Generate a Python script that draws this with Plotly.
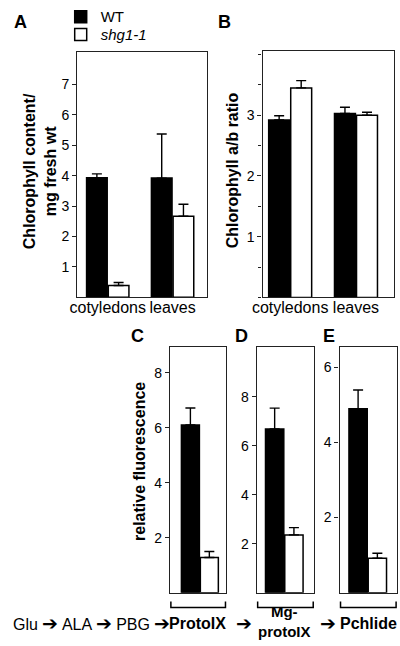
import plotly.graph_objects as go

W, H = 400, 646
FONT = "Liberation Sans, Arial, Helvetica, sans-serif"

# A: chlorophyll content per mg fresh weight
organs = ["cotyledons", "leaves"]
chl_wt = [3.93, 3.92]
chl_wt_err = [0.13, 1.45]
chl_shg = [0.39, 2.67]
chl_shg_err = [0.1, 0.39]

# B: chlorophyll a/b ratio
ratio_wt = [2.92, 3.03]
ratio_wt_err = [0.07, 0.1]
ratio_shg = [3.45, 3.0]
ratio_shg_err = [0.12, 0.05]

# C-E: relative fluorescence of porphyrin intermediates
pigments = ["ProtoIX", "Mg-protoIX", "Pchlide"]
fluor_wt = [6.1, 6.69, 4.9]
fluor_wt_err = [0.62, 0.85, 0.5]
fluor_shg = [1.28, 2.36, 0.92]
fluor_shg_err = [0.22, 0.3, 0.13]


def xdom(left, right):
    return [left / W, right / W]


def ydom(top, bottom):
    return [1 - bottom / H, 1 - top / H]


def err(values):
    return dict(type="data", array=values, arrayminus=[0] * len(values),
                symmetric=False, color="black", thickness=1.4, width=5)


def add_pair(fig, x, wt, wt_err, shg, shg_err, n, legend=False):
    xa, ya = f"x{n}" if n > 1 else "x", f"y{n}" if n > 1 else "y"
    fig.add_trace(go.Bar(
        x=x, y=wt, name="WT", offsetgroup="wt", legend="legend",
        showlegend=legend, xaxis=xa, yaxis=ya, error_y=err(wt_err),
        marker=dict(color="black", line=dict(color="black", width=1.5)),
    ))
    # second legend so the two keys sit as tightly as in the original
    fig.add_trace(go.Bar(
        x=x, y=shg, name="<i>shg1-1</i>", offsetgroup="shg", legend="legend2",
        showlegend=legend, xaxis=xa, yaxis=ya, error_y=err(shg_err),
        marker=dict(color="white", line=dict(color="black", width=1.5)),
    ))


fig = go.Figure()
add_pair(fig, organs, chl_wt, chl_wt_err, chl_shg, chl_shg_err, 1, legend=True)
add_pair(fig, organs, ratio_wt, ratio_wt_err, ratio_shg, ratio_shg_err, 2)
for i, name in enumerate(pigments):
    add_pair(fig, [name], [fluor_wt[i]], [fluor_wt_err[i]],
             [fluor_shg[i]], [fluor_shg_err[i]], 3 + i)

box = dict(showline=True, mirror=True, linecolor="#222", linewidth=1.2,
           showgrid=False, zeroline=False)
yax = dict(box, ticks="outside", ticklen=4, tickcolor="#222",
           tickfont=dict(size=14))

panels = {
    # n: (left, right, top, bottom, xrange, yrange, ytickvals)
    1: (69, 202, 45, 293, [-0.47, 1.53], [0, 8.05], [1, 2, 3, 4, 5, 6, 7]),
    2: (259, 394, 44, 293, [-0.42, 1.58], [0, 4.05], [1, 2, 3]),
    3: (164, 222, 343, 592, [-0.53, 0.47], [0, 8.95], [2, 4, 6, 8]),
    4: (253, 312, 343, 592, [-0.48, 0.52], [0, 10.05], [2, 4, 6, 8]),
    5: (338, 397, 343, 592, [-0.49, 0.51], [0, 6.55], [2, 4, 6]),
}
axes = {}
for n, (l, r, t, b, xr, yr, tv) in panels.items():
    sx = "" if n == 1 else str(n)
    axes[f"xaxis{sx}"] = dict(box, domain=xdom(l, r), range=xr, type="category",
                              anchor=f"y{sx}", ticks="", showticklabels=n < 3,
                              tickfont=dict(size=16), ticklabelstandoff=-5)
    axes[f"yaxis{sx}"] = dict(yax, domain=ydom(t, b), range=yr, tickvals=tv,
                              anchor=f"x{sx}")
axes["yaxis2"]["minor"] = dict(dtick=0.5, ticks="outside", ticklen=3,
                               tickcolor="#222")


def ann(text, x, y, size=15, angle=0, xanchor="center"):
    return dict(text=text, x=x / W, y=1 - y / H, xref="paper", yref="paper",
                showarrow=False, textangle=angle, xanchor=xanchor,
                yanchor="middle", font=dict(size=size, color="black"))


ARROW = "<span style='font-size:19px'>➔</span>"

annotations = [
    ann("<b>A</b>", 11, 14, 18),
    ann("<b>B</b>", 220, 14, 18),
    ann("<b>C</b>", 131, 332, 18),
    ann("<b>D</b>", 237, 332, 18),
    ann("<b>E</b>", 327, 332, 18),
    ann("<b>Chlorophyll content/<br>mg fresh wt</b>", 31, 165, 16, -90),
    ann("<b>Chlorophyll a/b ratio</b>", 229, 164, 16, -90),
    ann("<b>relative fluorescence</b>", 133, 459, 16, -90),
    ann(f"Glu {ARROW} ALA {ARROW} PBG {ARROW}", 166, 623, 16, xanchor="right"),
    ann("<b>ProtoIX</b>", 192, 623, 16),
    ann(ARROW, 240, 623, 15),
    ann("<b>Mg-<br>protoIX</b>", 282, 621, 15),
    ann(ARROW, 326, 623, 15),
    ann("<b>Pchlide</b>", 368, 623, 16),
]

shapes = []
for n in (3, 4, 5):
    l, r = panels[n][0], panels[n][1]
    x0, x1 = (l + 1) / W, (r - 1) / W
    ya, yb = 1 - 601 / H, 1 - 607 / H
    shapes.append(dict(type="path", xref="paper", yref="paper",
                       path=f"M {x0},{ya} L {x0},{yb} L {x1},{yb} L {x1},{ya}",
                       line=dict(color="black", width=1.5)))

key = dict(x=0.13, xanchor="left", yanchor="middle", font=dict(size=15),
           bgcolor="rgba(0,0,0,0)", itemwidth=30)

fig.update_layout(
    width=W, height=H, autosize=False,
    margin=dict(l=0, r=0, t=0, b=0),
    paper_bgcolor="white", plot_bgcolor="white",
    font=dict(family=FONT, color="black"),
    barmode="group", bargap=0.33, bargroupgap=0.05,
    legend=dict(key, y=1 - 9 / H),
    legend2=dict(key, y=1 - 27 / H),
    annotations=annotations, shapes=shapes,
    **axes,
)

# the page's default body margin would shift the 400x646 figure off the window
fig.write_html("out.html", config={"displayModeBar": False},
               post_script="document.body.style.margin='0';"
                           "document.body.style.overflow='hidden';")
